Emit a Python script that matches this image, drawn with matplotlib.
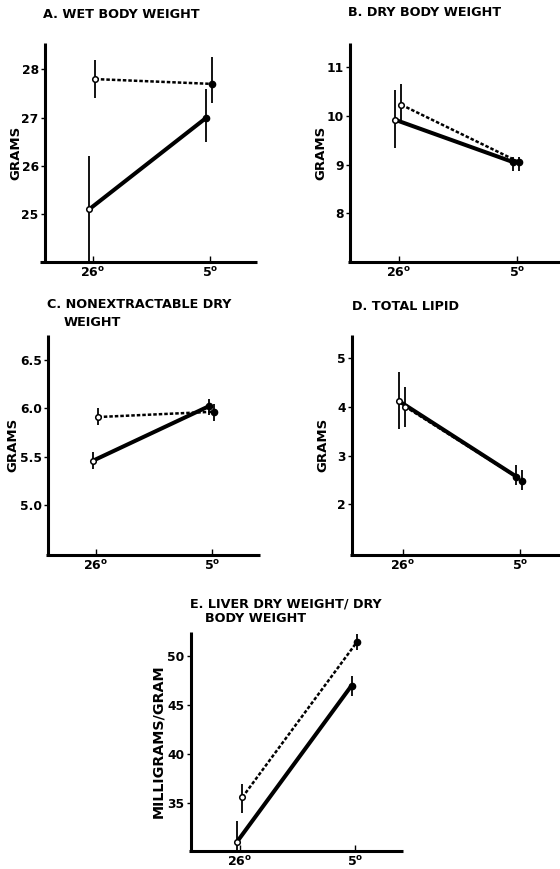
import matplotlib
matplotlib.use("Agg")
import matplotlib.pyplot as plt
import numpy as np

plt.rcParams['font.family'] = ['DejaVu Sans']
plt.rcParams['mathtext.fontset'] = 'dejavusans'

# ---------------- data ----------------
temps = ["26", "5"]
xtick_labels = [r"26$^{\mathbf{o}}$", r"5$^{\mathbf{o}}$"]

panel_titles = [
    ["A. WET BODY WEIGHT"],
    ["B. DRY BODY WEIGHT"],
    ["C. NONEXTRACTABLE DRY", "WEIGHT"],
    ["D. TOTAL LIPID"],
    ["E. LIVER DRY WEIGHT/ DRY", "BODY WEIGHT"],
]
ylabels = ["GRAMS", "GRAMS", "GRAMS", "GRAMS", "MILLIGRAMS/GRAM"]

yticks_A = [25, 26, 27, 28]
yticks_B = [8, 9, 10, 11]
yticks_C = [5.0, 5.5, 6.0, 6.5]
yticks_D = [2, 3, 4, 5]
yticks_E = [35, 40, 45, 50]
ytick_labels_C = ["5.0", "5.5", "6.0", "6.5"]

ylim_A = (24.0, 28.55)
ylim_B = (7.0, 11.5)
ylim_C = (4.48, 6.76)
ylim_D = (0.96, 5.48)
ylim_E = (30.16, 52.5)

# solid series (mean, lower end of bar, upper end of bar)
solid_A = [25.1, 27.0]
solid_A_lo = [24.0, 26.5]
solid_A_hi = [26.2, 27.6]
dotted_A = [27.8, 27.7]
dotted_A_lo = [27.4, 27.3]
dotted_A_hi = [28.2, 28.25]

solid_B = [9.92, 9.05]
solid_B_lo = [9.35, 8.88]
solid_B_hi = [10.53, 9.15]
dotted_B = [10.23, 9.05]
dotted_B_lo = [9.85, 8.88]
dotted_B_hi = [10.65, 9.15]

solid_C = [5.455, 6.02]
solid_C_lo = [5.37, 5.93]
solid_C_hi = [5.55, 6.10]
dotted_C = [5.91, 5.965]
dotted_C_lo = [5.83, 5.87]
dotted_C_hi = [6.00, 6.05]

solid_D = [4.12, 2.57]
solid_D_lo = [3.54, 2.40]
solid_D_hi = [4.71, 2.80]
dotted_D = [4.01, 2.49]
dotted_D_lo = [3.60, 2.30]
dotted_D_hi = [4.42, 2.70]

solid_E = [31.0, 47.0]
solid_E_lo = [30.2, 45.9]
solid_E_hi = [33.2, 48.0]
dotted_E = [35.6, 51.5]
dotted_E_lo = [34.0, 50.6]
dotted_E_hi = [37.0, 52.3]

# ---------------- layout (pixels) ----------------
W, H = 560, 869
layout = [
    dict(box=(40, 257, 43, 262), t=(93, 210), yax=45, title=[(43, 14)], lab_off=23, lab_fs=9.5),
    dict(box=(348, 560, 43, 262), t=(399, 517), yax=350, title=[(348, 12)], lab_off=23, lab_fs=9.5),
    dict(box=(46, 260, 335, 555), t=(96, 212), yax=48, title=[(46.7, 305), (63.3, 322)], lab_off=29, lab_fs=9.5),
    dict(box=(350, 560, 335, 555), t=(402.7, 520), yax=351.7, title=[(351.7, 306)], lab_off=22, lab_fs=9.5),
    dict(box=(189, 403, 631.7, 850.7), t=(240, 355), yax=190.7, title=[(190, 604), (205, 618)], lab_off=25, lab_fs=10.3),
]

panels = [
    (yticks_A, None, ylim_A, solid_A, solid_A_lo, solid_A_hi, dotted_A, dotted_A_lo, dotted_A_hi),
    (yticks_B, None, ylim_B, solid_B, solid_B_lo, solid_B_hi, dotted_B, dotted_B_lo, dotted_B_hi),
    (yticks_C, ytick_labels_C, ylim_C, solid_C, solid_C_lo, solid_C_hi, dotted_C, dotted_C_lo, dotted_C_hi),
    (yticks_D, None, ylim_D, solid_D, solid_D_lo, solid_D_hi, dotted_D, dotted_D_lo, dotted_D_hi),
    (yticks_E, None, ylim_E, solid_E, solid_E_lo, solid_E_hi, dotted_E, dotted_E_lo, dotted_E_hi),
]

fig = plt.figure(figsize=(W / 100, H / 100), dpi=100)
fig.patch.set_facecolor("white")

x = np.arange(len(temps))
off_solid = -0.03
off_dotted = 0.02

for i, (lay, pan) in enumerate(zip(layout, panels)):
    yt, ytl, ylim, s, slo, shi, d, dlo, dhi = pan
    l, r, t, b = lay["box"]
    t0, t1 = lay["t"]
    ax = fig.add_axes([l / W, 1 - b / H, (r - l) / W, (b - t) / H])
    unit = t1 - t0
    ax.set_xlim((l - t0) / unit, (r - t0) / unit)
    ax.set_ylim(*ylim)
    ax.patch.set_alpha(0)

    for sp in ["top", "right"]:
        ax.spines[sp].set_visible(False)
    ax.spines["left"].set_position(("data", (lay["yax"] - t0) / unit))
    for sp in ["left", "bottom"]:
        ax.spines[sp].set_linewidth(2.2)
        ax.spines[sp].set_capstyle("butt")

    ax.set_xticks(x)
    ax.set_xticklabels(xtick_labels)
    ax.set_yticks(yt)
    if ytl is not None:
        ax.set_yticklabels(ytl)
    ax.tick_params(axis="x", direction="in", length=4, width=1, pad=3,
                   labelsize=9)
    ax.tick_params(axis="y", direction="out", length=3, width=1, pad=1.5,
                   labelsize=8.8)
    for lab in ax.get_xticklabels() + ax.get_yticklabels():
        lab.set_fontweight("bold")

    axw = r - l
    spine_frac = (lay["yax"] - l) / axw
    ax.set_ylabel(ylabels[i], fontsize=lay["lab_fs"], fontweight="bold")
    ax.yaxis.set_label_coords(spine_frac - lay["lab_off"] / axw, 0.5)

    s = np.array(s); d = np.array(d)
    slo = np.array(slo); shi = np.array(shi)
    dlo = np.array(dlo); dhi = np.array(dhi)
    xs = x + off_solid
    xd = x + off_dotted

    ax.errorbar(xs, s, yerr=[s - slo, shi - s], fmt="none", ecolor="black",
                elinewidth=1.3, capsize=0, zorder=3, clip_on=False)
    ax.errorbar(xd, d, yerr=[d - dlo, dhi - d], fmt="none", ecolor="black",
                elinewidth=1.3, capsize=0, zorder=3, clip_on=False)
    ax.plot(xs, s, color="black", lw=2.9, solid_capstyle="butt", zorder=2)
    ax.plot(xd, d, color="black", lw=1.8, dashes=(1.4, 0.8), zorder=2)
    ax.plot([xs[0], xd[0]], [s[0], d[0]], "o", ms=4, mfc="white", mec="black",
            mew=1.1, zorder=4, linestyle="none", clip_on=False)
    ax.plot([xs[1], xd[1]], [s[1], d[1]], "o", ms=4.5, mfc="black", mec="black",
            zorder=4, linestyle="none", clip_on=False)

    for txt, (tx, ty) in zip(panel_titles[i], lay["title"]):
        fig.text(tx / W, 1 - ty / H, txt, ha="left", va="center",
                 fontsize=9.2, fontweight="bold")

fig.savefig("out.png", dpi=100, facecolor="white")
